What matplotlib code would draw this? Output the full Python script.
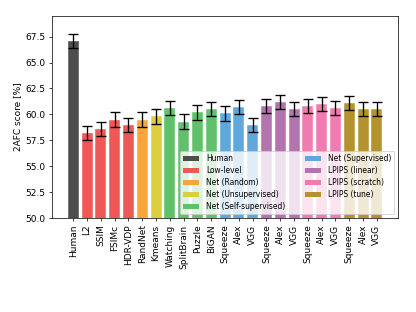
import matplotlib
matplotlib.use("Agg")
import matplotlib.pyplot as plt
from matplotlib.patches import Patch

labels = ["Human", "L2", "SSIM", "FSIMc", "HDR-VDP", "RandNet", "Kmeans",
          "Watching", "SplitBrain", "Puzzle", "BiGAN",
          "Squeeze", "Alex", "VGG",
          "Squeeze", "Alex", "VGG",
          "Squeeze", "Alex", "VGG",
          "Squeeze", "Alex", "VGG"]
values = [67.1, 58.2, 58.6, 59.5, 59.0, 59.5, 59.8,
          60.6, 59.3, 60.2, 60.5,
          60.1, 60.7, 59.0,
          60.8, 61.2, 60.5,
          60.8, 61.0, 60.6,
          61.1, 60.5, 60.5]
errors = [0.7] * len(values)
groups = [0, 1, 1, 1, 1, 2, 3, 4, 4, 4, 4, 5, 5, 5, 6, 6, 6, 7, 7, 7, 8, 8, 8]
group_names = ["Human", "Low-level", "Net (Random)", "Net (Unsupervised)",
               "Net (Self-supervised)", "Net (Supervised)", "LPIPS (linear)",
               "LPIPS (scratch)", "LPIPS (tune)"]
group_colors = ["#4d4d4d", "#f05757", "#f9a53c", "#dcce3e", "#61c06b",
                "#5fa8dc", "#b373ae", "#f07bb0", "#b3922f"]

fig = plt.figure(figsize=(6.4, 4.8), dpi=65)
ax = fig.add_axes([0.125, 0.301, 0.832, 0.648])

x = list(range(len(values)))
colors = [group_colors[g] for g in groups]
ax.bar(x, values, width=0.8, color=colors, edgecolor="white", linewidth=0.5,
       yerr=errors, capsize=5.5, error_kw=dict(ecolor="black", elinewidth=1.5, capthick=1.5))
ax.set_ylim(50, 69.5)
ax.set_yticks([50, 52.5, 55, 57.5, 60, 62.5, 65, 67.5])
ax.set_yticklabels(["50.0", "52.5", "55.0", "57.5", "60.0", "62.5", "65.0", "67.5"])
ax.set_xticks(x)
ax.set_xticklabels(labels, rotation=90)
ax.set_ylabel("2AFC score [%]")

handles = [Patch(facecolor=c, label=n) for c, n in zip(group_colors, group_names)]
ax.legend(handles=handles, ncol=2, loc="lower right", fontsize="small",
          framealpha=0.8, labelspacing=0.4, handlelength=2.2,
          handletextpad=0.9, columnspacing=2.6)

fig.savefig("out.png", dpi=65)
